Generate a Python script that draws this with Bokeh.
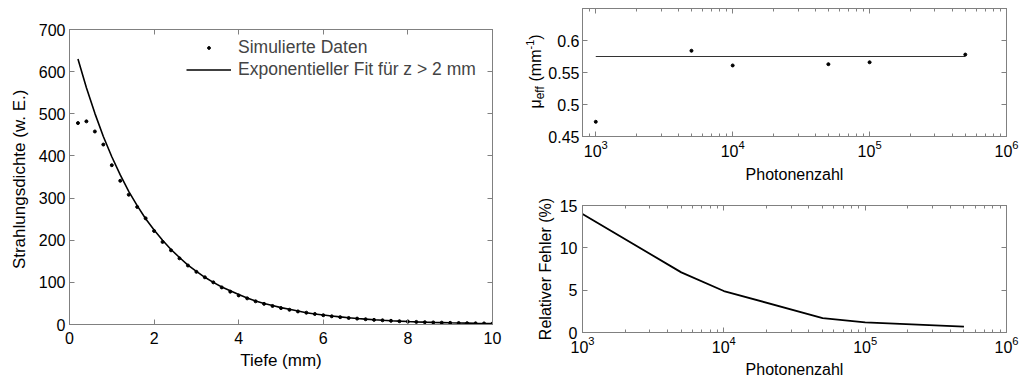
import math
from bokeh.plotting import figure
from bokeh.layouts import row, column
from bokeh.models import (Range1d, LinearAxis, LogAxis, FixedTicker, LogTicker,
                          Legend, LegendItem, CustomJSTickFormatter)
from bokeh.core.properties import value
from bokeh.embed import file_html
from bokeh.resources import INLINE

# ---------------- data ----------------
depth_mm = [0.2, 0.4, 0.6, 0.8, 1.0, 1.2, 1.4, 1.6, 1.8, 2.0,
            2.2, 2.4, 2.6, 2.8, 3.0, 3.2, 3.4, 3.6, 3.8, 4.0,
            4.2, 4.4, 4.6, 4.8, 5.0, 5.2, 5.4, 5.6, 5.8, 6.0,
            6.2, 6.4, 6.6, 6.8, 7.0, 7.2, 7.4, 7.6, 7.8, 8.0,
            8.2, 8.4, 8.6, 8.8, 9.0, 9.2, 9.4, 9.6, 9.8, 10.0]
sim_density = [478, 482, 458, 427, 378, 341, 308, 279, 252, 222,
               196, 176, 157, 140, 125, 112, 100, 88, 78, 69,
               62, 55, 49, 44, 39, 35, 31, 28, 25, 22,
               19.5, 17.5, 15.5, 14, 12.5, 11, 10, 8.8, 7.8, 7,
               6.2, 5.5, 4.9, 4.4, 3.9, 3.5, 3.1, 2.8, 2.5, 2.2]
fit_density = [630, 562, 501, 446, 398, 355, 316, 282, 251, 224,
               200, 178, 159, 141, 126, 112, 100, 89, 80, 71,
               63, 56, 50, 45, 40, 36, 32, 28, 25, 22.5,
               20, 18, 16, 14.2, 12.7, 11.3, 10.1, 9.0, 8.0, 7.1,
               6.3, 5.6, 5.0, 4.5, 4.0, 3.6, 3.2, 2.8, 2.5, 2.25]

photons = [1000, 5000, 10000, 50000, 100000, 500000]
mu_eff = [0.473, 0.584, 0.561, 0.563, 0.566, 0.578]
mu_fit_photons = [1000, 500000]
mu_fit = [0.575, 0.575]
rel_error = [14.0, 7.1, 4.9, 1.7, 1.2, 0.7]

left_xticks = [0, 2, 4, 6, 8, 10]
left_yticks = [0, 100, 200, 300, 400, 500, 600, 700]
mu_yticks = [0.45, 0.5, 0.55, 0.6]
err_yticks = [0, 5, 10, 15]

FONT = "Liberation Sans"
AX = "#808080"


def style_axis(ax, size, standoff):
    ax.axis_line_color = AX
    ax.major_tick_line_color = AX
    ax.minor_tick_line_color = AX
    ax.major_tick_in = 5
    ax.major_tick_out = 0
    ax.minor_tick_in = 3
    ax.minor_tick_out = 0
    ax.major_label_text_font = FONT
    ax.major_label_text_font_size = size
    ax.major_label_text_color = "black"
    ax.major_label_standoff = standoff
    ax.axis_label_text_font = FONT
    ax.axis_label_text_font_style = "normal"
    ax.axis_label_text_color = "black"


def mirror(p, ax_cls, ticker, place):
    ax = ax_cls(ticker=ticker)
    style_axis(ax, "0px", 0)
    ax.formatter = CustomJSTickFormatter(code="return ''")
    if isinstance(ticker, FixedTicker):
        ax.minor_tick_line_color = None
    p.add_layout(ax, place)


def base_fig(**kw):
    p = figure(output_backend="svg", toolbar_location=None, **kw)
    p.xgrid.visible = False
    p.ygrid.visible = False
    p.outline_line_color = AX
    p.background_fill_color = "white"
    p.border_fill_color = "white"
    return p


# ---------------- left plot ----------------
pl = base_fig(width=515, height=380, x_range=Range1d(0, 10), y_range=Range1d(0, 700),
              min_border_left=69, min_border_right=23, min_border_top=29, min_border_bottom=56)
r_dots = pl.scatter(depth_mm, sim_density, size=3, color="black")
r_fit = pl.line(depth_mm, fit_density, line_color="black", line_width=1.6)
pl.xaxis.ticker = FixedTicker(ticks=left_xticks)
pl.yaxis.ticker = FixedTicker(ticks=left_yticks)
for ax in pl.xaxis + pl.yaxis:
    style_axis(ax, "16px", 5)
    ax.minor_tick_line_color = None
    ax.axis_label_text_font_size = "17px"
pl.xaxis.axis_label = "Tiefe (mm)"
pl.xaxis.major_label_standoff = 7
pl.xaxis.axis_label_standoff = 4
pl.yaxis.axis_label = "Strahlungsdichte  (w. E.)"
pl.yaxis.axis_label_standoff = 7
pl.yaxis.major_label_standoff = 4
mirror(pl, LinearAxis, FixedTicker(ticks=left_xticks), "above")
mirror(pl, LinearAxis, FixedTicker(ticks=left_yticks), "right")

legend = Legend(items=[LegendItem(label="Simulierte Daten", renderers=[r_dots]),
                       LegendItem(label="Exponentieller Fit für z > 2 mm", renderers=[r_fit])],
                location=(117, 244), glyph_width=45, glyph_height=7, label_height=20,
                spacing=1, padding=0, margin=0, border_line_color=None,
                background_fill_alpha=0, label_text_font=FONT, label_text_font_size="17.5px",
                label_standoff=7)
pl.add_layout(legend)

# ---------------- top right: y-label strip ----------------
# its frame is aligned with the neighbouring plot frame (canvas rows 8..136),
# so the range is set to give 1 unit = 1 px measured from the canvas bottom
LAB_W = 30
lab = figure(width=LAB_W, height=190, x_range=Range1d(0, LAB_W), y_range=Range1d(54, 182),
             output_backend="svg", toolbar_location=None, min_border=0)
lab.axis.visible = False
lab.grid.visible = False
lab.outline_line_color = None
lab.border_fill_color = "white"
xb = 20
parts = [("μ", "16px", 0, 82.0), ("eff", "12px", 4, 91.2), ("(mm", "16px", 0, 109.0),
         ("-1", "11px", -6, 141.0), (")", "16px", 0, 150.8)]
for txt, fs, dx, s in parts:
    lab.text(x=[xb + dx], y=[s], text=[txt], angle=math.pi / 2, text_font=value(FONT),
             text_font_size=value(fs), text_align="left", text_baseline="alphabetic",
             text_color="black")

# ---------------- top right plot ----------------
pt = base_fig(width=504 - LAB_W, height=190, x_axis_type="log", x_range=Range1d(800, 1e6),
              y_range=Range1d(0.45, 0.65),
              min_border_left=67 - LAB_W, min_border_right=13, min_border_top=8,
              min_border_bottom=54)
pt.line(mu_fit_photons, mu_fit, line_color="#333333", line_width=1)
pt.scatter(photons, mu_eff, size=3, color="black")
pt.xaxis.ticker = LogTicker(num_minor_ticks=10)
pt.yaxis.ticker = FixedTicker(ticks=mu_yticks)
pt.yaxis.formatter = CustomJSTickFormatter(code="return String(Math.round(tick*100)/100)")
for ax in pt.xaxis + pt.yaxis:
    style_axis(ax, "16px", 3)
    ax.axis_label_text_font_size = "16px"
pt.yaxis.minor_tick_line_color = None
pt.xaxis.axis_label = "Photonenzahl"
pt.xaxis.axis_label_standoff = 6
mirror(pt, LogAxis, LogTicker(num_minor_ticks=10), "above")
mirror(pt, LinearAxis, FixedTicker(ticks=mu_yticks), "right")

# ---------------- bottom right plot ----------------
pb = base_fig(width=504, height=190, x_axis_type="log", x_range=Range1d(1000, 1e6),
              y_range=Range1d(0, 15),
              min_border_left=67, min_border_right=13, min_border_top=15, min_border_bottom=48)
pb.line(photons, rel_error, line_color="black", line_width=1.8)
pb.xaxis.ticker = LogTicker(num_minor_ticks=10)
pb.yaxis.ticker = FixedTicker(ticks=err_yticks)
for ax in pb.xaxis + pb.yaxis:
    style_axis(ax, "16px", 3)
    ax.axis_label_text_font_size = "16px"
pb.yaxis.minor_tick_line_color = None
pb.xaxis.axis_label = "Photonenzahl"
pb.xaxis.axis_label_standoff = 5
pb.yaxis.axis_label = "Relativer Fehler (%)"
pb.yaxis.axis_label_standoff = 3
pb.yaxis.major_label_standoff = 5
mirror(pb, LogAxis, LogTicker(num_minor_ticks=10), "above")
mirror(pb, LinearAxis, FixedTicker(ticks=err_yticks), "right")

layout = row(pl, column(row(lab, pt), pb))
open("out.html", "w").write(file_html(layout, INLINE))
